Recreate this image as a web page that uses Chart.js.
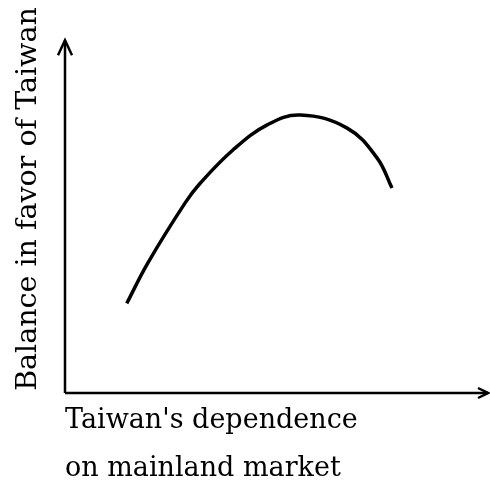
<!DOCTYPE html>
<html lang="en">
<head>
    <meta charset="UTF-8">
    <title>Balance vs dependence</title>
    <script src="https://cdn.jsdelivr.net/npm/chart.js"></script>
    <style>
        body { margin: 0; background: #ffffff; }
        #chart-container { width: 490px; height: 486px; }
    </style>
</head>
<body>
    <div id="chart-container">
        <canvas id="balanceChart"></canvas>
    </div>

    <script>
        // dependence (x) and balance (y), in 0-100 units
        const dependence = [14.6, 19.6, 28.4, 31.9, 39.7, 47.8, 55.6, 66.7, 73.8, 77.3];
        const balance = [25.4, 36.9, 53.9, 59.4, 68.9, 76.0, 78.8, 75.1, 66.6, 58.1];
        const xTitle = ["Taiwan's dependence", 'on mainland market'];
        const yTitle = 'Balance in favor of Taiwan';

        const points = dependence.map((x, i) => ({ x: x, y: balance[i] }));

        // axes with arrow heads; the y arrow stops at value 100
        const arrowAxes = {
            id: 'arrowAxes',
            afterDraw(chart) {
                const { ctx, chartArea: a } = chart;
                const top = chart.scales.y.getPixelForValue(100);
                ctx.save();
                ctx.strokeStyle = '#000';
                ctx.lineWidth = 2.5;
                ctx.beginPath();
                ctx.moveTo(a.left, a.bottom);
                ctx.lineTo(a.left, top);
                ctx.moveTo(a.left, a.bottom);
                ctx.lineTo(a.right, a.bottom);
                ctx.stroke();
                ctx.beginPath();
                ctx.moveTo(a.left - 7, top + 15);
                ctx.lineTo(a.left, top);
                ctx.lineTo(a.left + 7, top + 15);
                ctx.moveTo(a.right - 10, a.bottom - 5);
                ctx.lineTo(a.right, a.bottom);
                ctx.lineTo(a.right - 10, a.bottom + 5);
                ctx.stroke();
                ctx.restore();
            }
        };

        new Chart(document.getElementById('balanceChart'), {
            type: 'line',
            data: {
                datasets: [{
                    data: points,
                    borderColor: '#000',
                    borderWidth: 3.5,
                    pointRadius: 0,
                    tension: 0.4,
                    fill: false
                }]
            },
            options: {
                responsive: true,
                maintainAspectRatio: false,
                animation: false,
                layout: { padding: { top: 5, right: 2, left: 0, bottom: 0 } },
                plugins: { legend: { display: false }, tooltip: { enabled: false } },
                scales: {
                    x: {
                        type: 'linear', min: 0, max: 100,
                        grid: { display: false }, border: { display: false },
                        ticks: { display: false },
                        afterFit: s => { s.height = 93; },
                        title: {
                            display: true, text: xTitle, align: 'start', color: '#000',
                            font: { family: 'DejaVu Serif', size: 27, lineHeight: 1.78 },
                            padding: { top: 0, bottom: -7 }
                        }
                    },
                    y: {
                        min: 0, max: 110,
                        grid: { display: false }, border: { display: false },
                        ticks: { display: false },
                        afterFit: s => { s.width = 65; },
                        title: {
                            display: true, text: yTitle, color: '#000',
                            font: { family: 'DejaVu Serif', size: 28.5 },
                            padding: { top: 11, bottom: 0 }
                        }
                    }
                }
            },
            plugins: [arrowAxes]
        });
    </script>
</body>
</html>
